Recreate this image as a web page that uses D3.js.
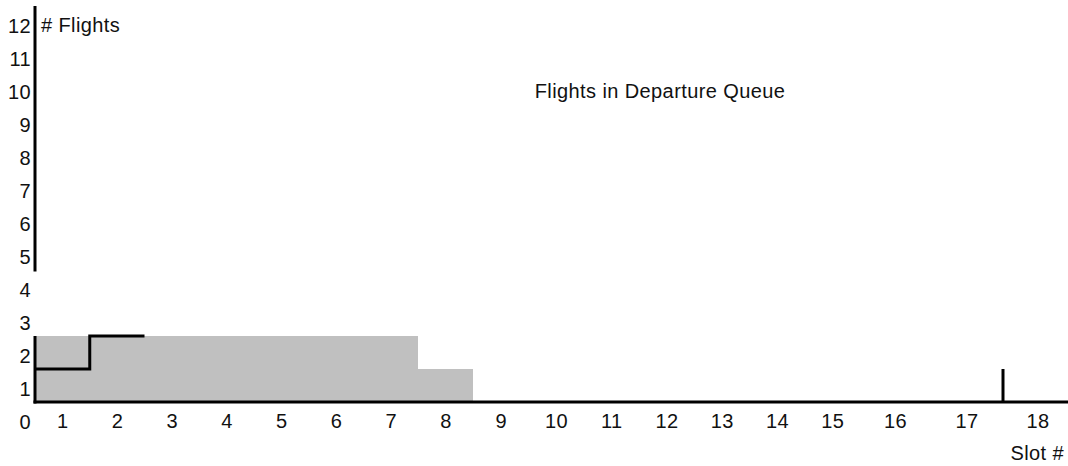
<!DOCTYPE html>
<html>
<head>
<meta charset="utf-8">
<script src="https://cdn.jsdelivr.net/npm/d3@7.9.0/dist/d3.min.js"></script>
<style>
  body { margin: 0; background: #fff; }
  text { font-family: "Liberation Sans", Arial, sans-serif; font-size: 20px; letter-spacing: 0.4px; fill: #111; }
</style>
</head>
<body>
<div id="chart"></div>
<script>
// === Data ===
const slots = d3.range(1, 19);                         // slot numbers 1..18
const queueCounts = [2, 2, 2, 2, 2, 2, 2, 1, 0, 0, 0, 0, 0, 0, 0, 0, 0, 0];
const stepSlots = [1, 2];                              // slots covered by the step line
const stepCounts = [1, 2];
const markerBoundary = 17;                             // boundary between slot 17 and 18
const markerCount = 1;
const yTicks = d3.range(0, 13);                        // 0..12
const yAxisRuns = [[0, 2], [4, 12]];                   // parts of the y axis that are drawn

// === Dimensions ===
const W = 1068, H = 466;

const svg = d3.select("#chart").append("svg")
    .attr("width", W).attr("height", H);

// slot boundaries -> pixels (last slots are wider, as in the original)
const x = d3.scaleLinear()
    .domain([0, 8, 15, 16, 17, 18])
    .range([35, 473, 860, 930, 1003, 1072]);

const y = d3.scaleLinear()
    .domain([0, 12])
    .range([402, 6]);

// gray queue bars, one per slot
svg.append("g").selectAll("rect")
    .data(slots.filter((s, i) => queueCounts[i] > 0))
    .join("rect")
    .attr("x", s => Math.round(x(s - 1)))
    .attr("width", s => Math.round(x(s)) - Math.round(x(s - 1)))
    .attr("y", s => y(queueCounts[s - 1]))
    .attr("height", s => y(0) - y(queueCounts[s - 1]))
    .attr("fill", "#c0c0c0")
    .attr("shape-rendering", "crispEdges");

// step line
const stepPts = [];
stepSlots.forEach((s, i) => {
    stepPts.push([s - 1, stepCounts[i]], [s, stepCounts[i]]);
});
svg.append("path")
    .attr("d", d3.line().x(d => x(d[0])).y(d => y(d[1]))(stepPts))
    .attr("fill", "none")
    .attr("stroke", "#000")
    .attr("stroke-width", 3);

// marker near the end
svg.append("line")
    .attr("x1", x(markerBoundary)).attr("x2", x(markerBoundary))
    .attr("y1", y(0)).attr("y2", y(markerCount))
    .attr("stroke", "#000").attr("stroke-width", 3);

// baseline
svg.append("line")
    .attr("x1", x(0) - 1.5).attr("x2", W)
    .attr("y1", y(0)).attr("y2", y(0))
    .attr("stroke", "#000").attr("stroke-width", 3);

// y axis line (broken)
svg.append("g").selectAll("line")
    .data(yAxisRuns)
    .join("line")
    .attr("x1", x(0)).attr("x2", x(0))
    .attr("y1", d => y(d[0]) + 1.5).attr("y2", d => y(d[1]))
    .attr("stroke", "#000").attr("stroke-width", 3);

// x tick labels, centered in each slot
const xAxis = d3.axisBottom(x)
    .tickValues(slots.map(s => s - 0.5))
    .tickFormat(v => String(v + 0.5))
    .tickSize(0).tickPadding(0);
const xAxisG = svg.append("g").attr("transform", `translate(0,${y(0)})`).call(xAxis);
xAxisG.select(".domain").remove();
xAxisG.selectAll("text").attr("dy", null).attr("y", 26)
    .attr("font-family", null).attr("font-size", null);

// y tick labels, centered in each band ("0" sits at the corner)
const yAxis = d3.axisLeft(y)
    .tickValues(yTicks.map(t => t - 0.5))
    .tickFormat(v => String(v + 0.5))
    .tickSize(0).tickPadding(0);
const yAxisG = svg.append("g").attr("transform", "translate(31,0)").call(yAxis);
yAxisG.select(".domain").remove();
yAxisG.selectAll("text").attr("dy", "9.5").attr("x", 0)
    .attr("font-family", null).attr("font-size", null);

// labels
svg.append("text").attr("x", 41).attr("y", 32).text("# Flights");
svg.append("text").attr("x", 660).attr("y", 98).attr("text-anchor", "middle")
    .text("Flights in Departure Queue");
svg.append("text").attr("x", 1064).attr("y", 460).attr("text-anchor", "end").text("Slot #");
</script>
</body>
</html>
